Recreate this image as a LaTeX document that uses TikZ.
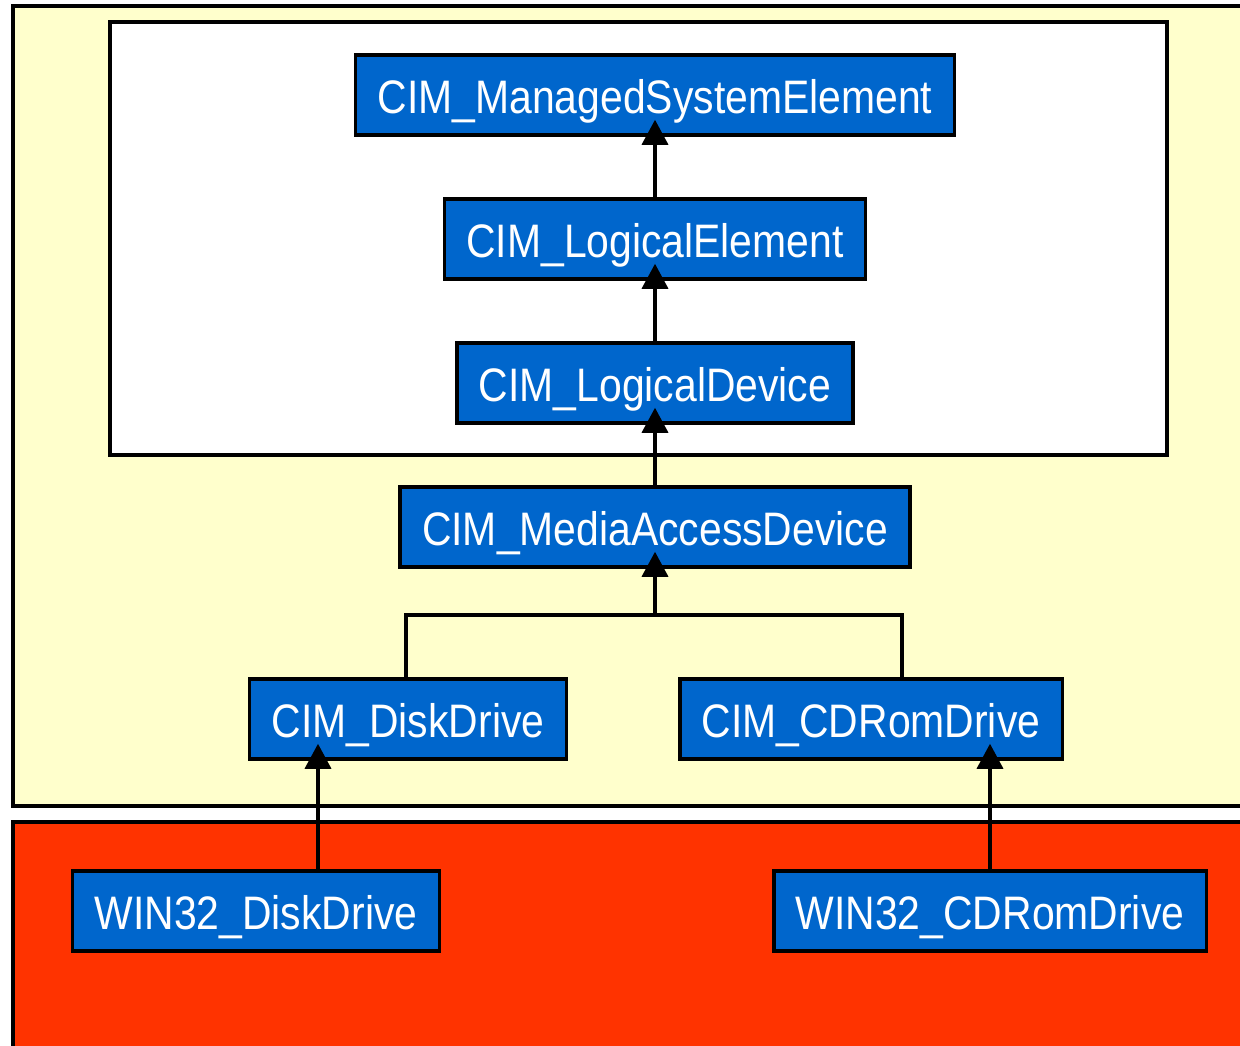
\documentclass[tikz,border=0pt]{standalone}
\usepackage{fontspec}
\setmainfont[FakeStretch=0.87]{Liberation Sans}
\usepackage{xcolor}
\usetikzlibrary{arrows.meta}

\definecolor{cimblue}{HTML}{0066CC}
\definecolor{cimyellow}{HTML}{FFFFCC}
\definecolor{winred}{HTML}{FF3300}

\begin{document}
\begin{tikzpicture}[
    x=1pt, y=-1pt,
    cls/.style={draw=black, line width=3.5pt, fill=cimblue, text=white,
                font=\fontsize{47}{50}\selectfont, inner xsep=22pt,
                text height=40pt, text depth=3pt,
                minimum height=80pt, anchor=center},
    link/.style={line width=3.5pt},
    >={Triangle[length=25pt, width=26pt]}
]
    \clip (0,0) rectangle (1240,1045);
    \fill[white] (0,0) rectangle (1240,1045);

    % layers
    \draw[line width=3.5pt, fill=cimyellow] (13,6) rectangle (1260,806);
    \draw[line width=3.5pt, fill=white] (110,22) rectangle (1167,455);
    \draw[line width=3.5pt, fill=winred] (13,822) rectangle (1260,1070);

    % classes
    \node[cls] (mse) at (655,95)  {CIM\_ManagedSystemElement};
    \node[cls] (le)  at (655,239) {CIM\_LogicalElement};
    \node[cls] (ld)  at (655,383) {CIM\_LogicalDevice};
    \node[cls] (mad) at (655,527) {CIM\_MediaAccessDevice};
    \node[cls] (dd)  at (408,719) {CIM\_DiskDrive};
    \node[cls] (cd)  at (871,719) {CIM\_CDRomDrive};
    \node[cls] (wdd) at (256,911) {WIN32\_DiskDrive};
    \node[cls] (wcd) at (990,911) {WIN32\_CDRomDrive};

    % inheritance
    \draw[link, ->, shorten >=-17pt] (le) -- (mse);
    \draw[link, ->, shorten >=-17pt] (ld) -- (le);
    \draw[link, ->, shorten >=-17pt] (mad) -- (ld);

    \coordinate (join) at (655,615);
    \draw[link] ([xshift=-2pt]dd.north) |- (join) -| ([xshift=31pt]cd.north);
    \draw[link, ->, shorten >=-17pt] (join) -- (mad.south);

    \draw[link, ->, shorten >=-17pt] ([xshift=62pt]wdd.north) -- ([xshift=62pt]wdd.north |- dd.south);
    \draw[link, ->, shorten >=-17pt] (wcd.north) -- (wcd.north |- cd.south);
\end{tikzpicture}
\end{document}
